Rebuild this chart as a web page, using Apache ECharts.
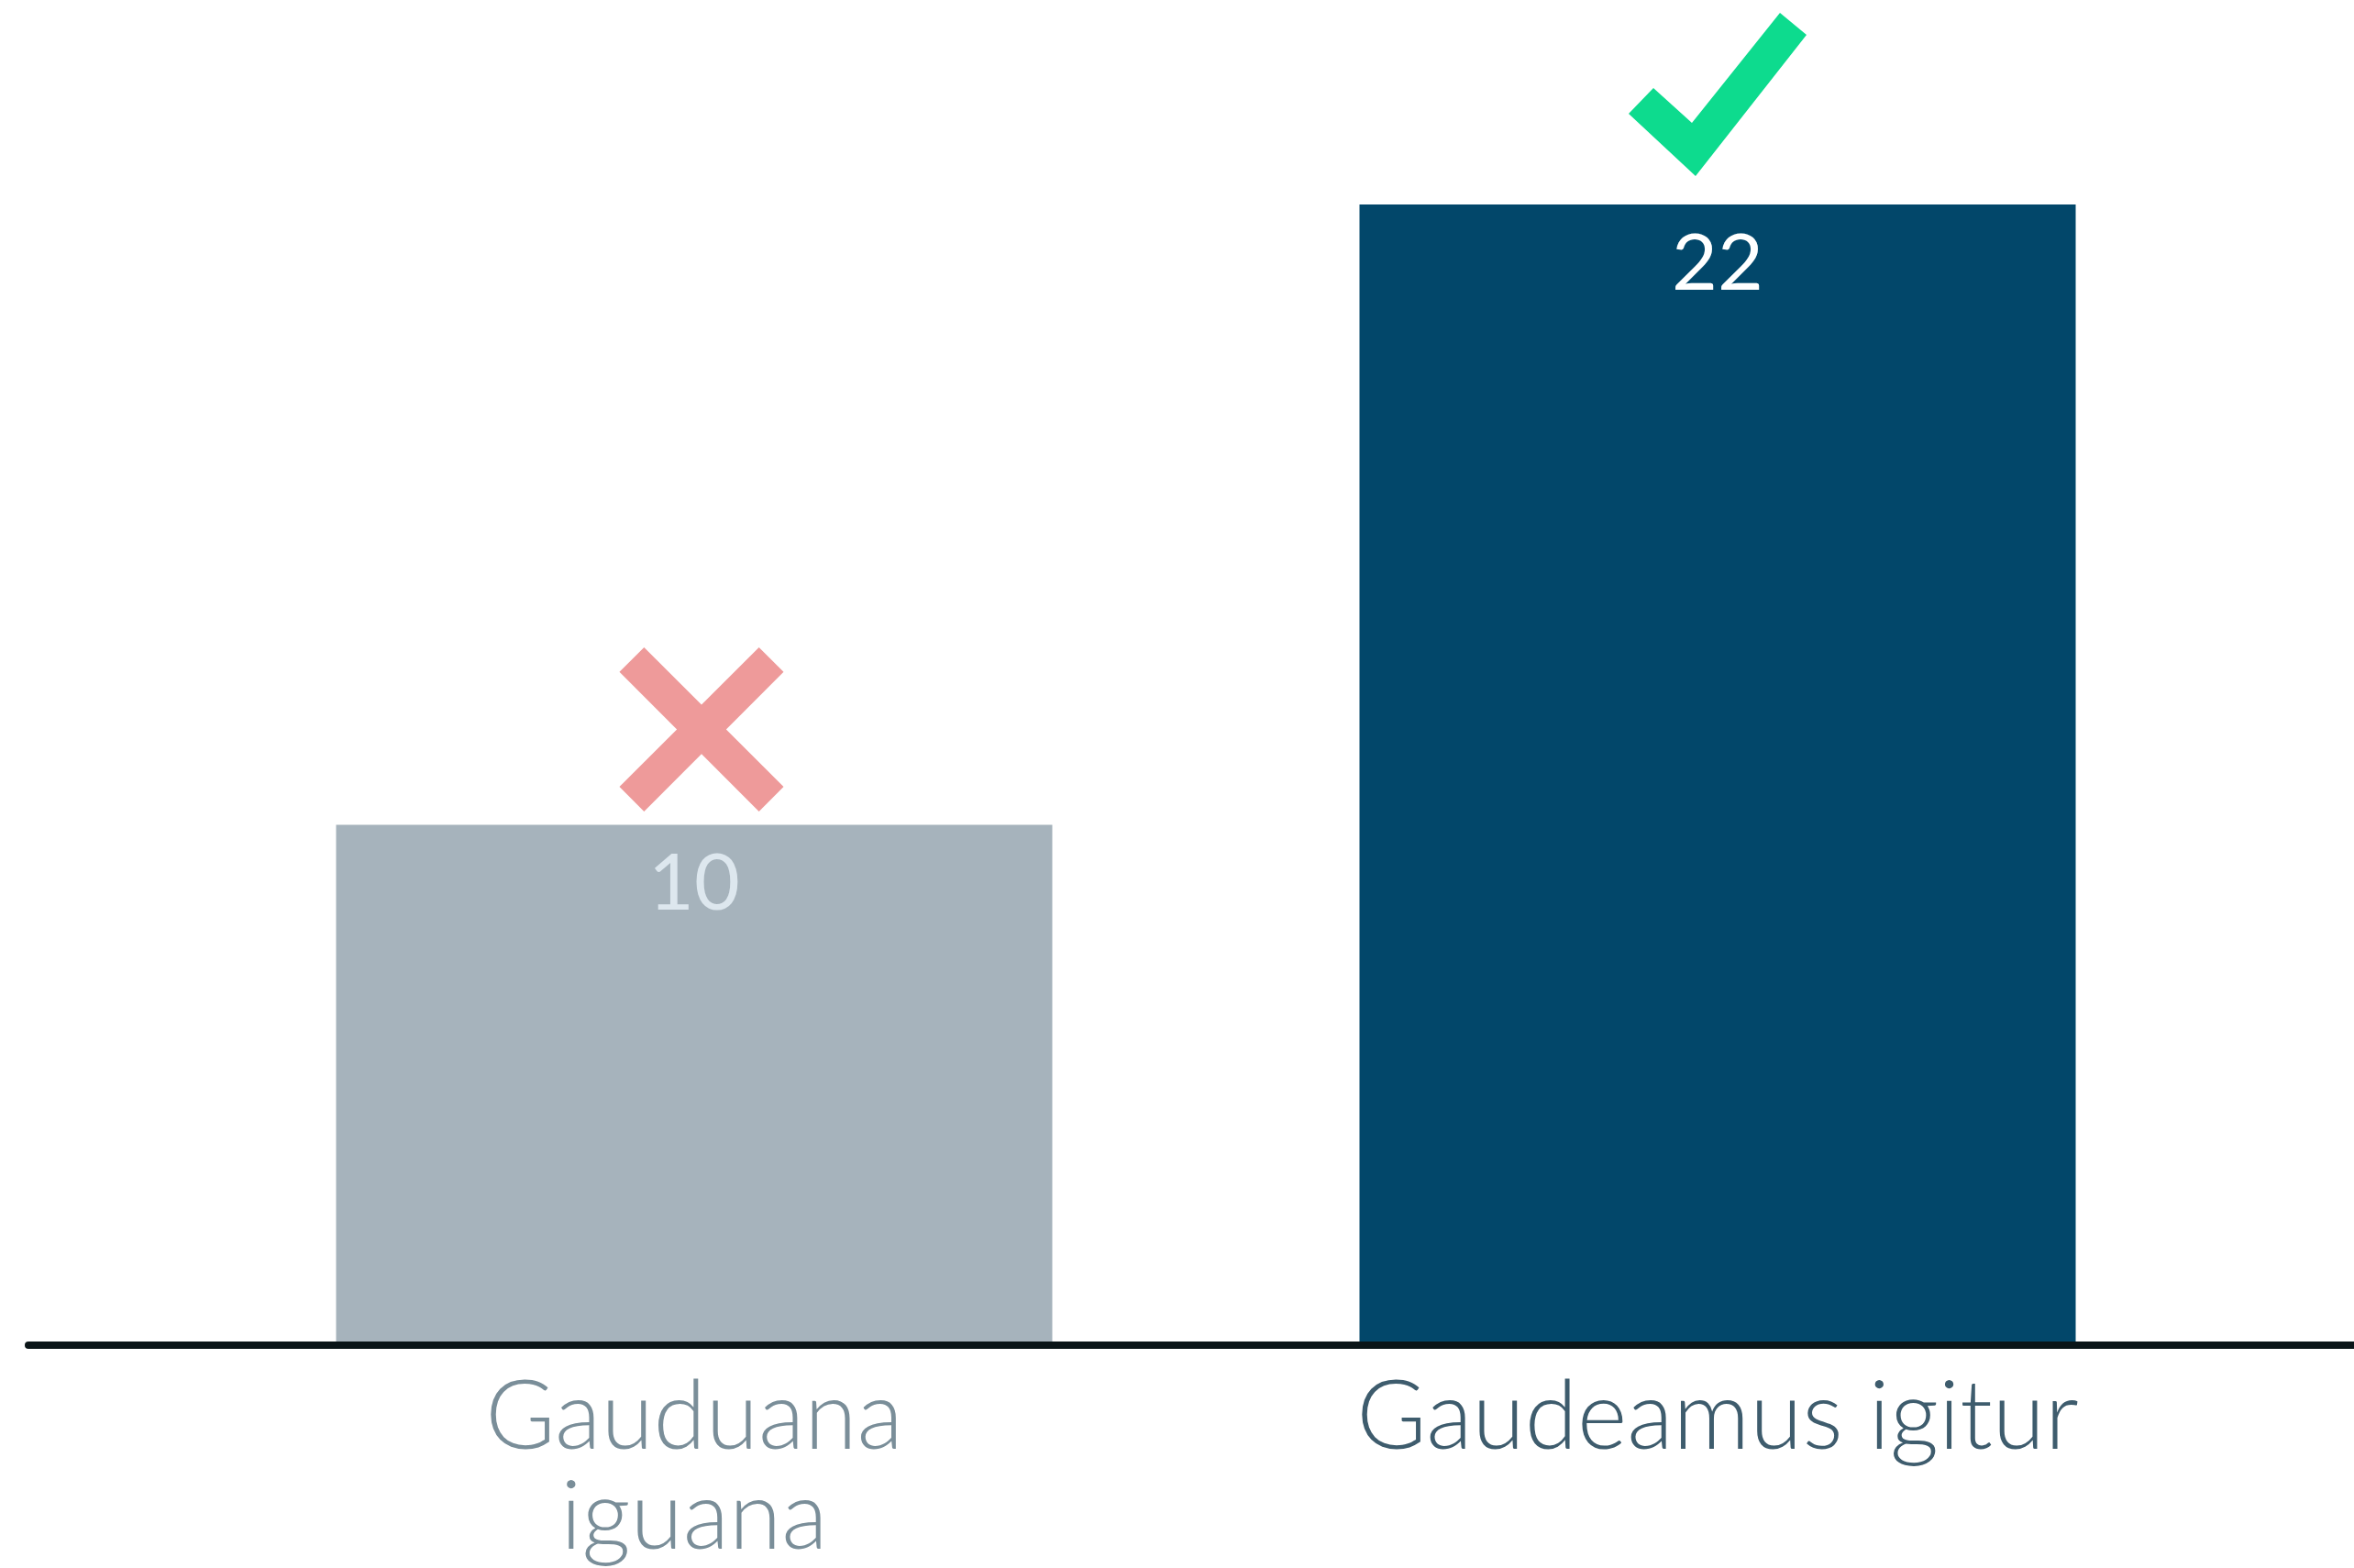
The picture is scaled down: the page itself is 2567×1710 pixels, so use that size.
<!DOCTYPE html>
<html>
<head>
<meta charset="utf-8">
<script src="https://cdn.jsdelivr.net/npm/echarts@6/dist/echarts.min.js"></script>
<style>
  html, body { margin: 0; padding: 0; background: #ffffff; }
  #chart { width: 2567px; height: 1710px; }
</style>
</head>
<body>
<div id="chart"></div>
<script>
// data
var categories = ['Gauduana\niguana', 'Gaudeamus igitur'];
var values = [10, 22];
var verdicts = ['wrong', 'right'];

// styles
var barColors = ['#A6B3BC', '#02476A'];
var valueLabelColors = ['#DDE7EE', '#FFFFFF'];
var catLabelColors = ['#7A8E99', '#3E5C6D'];

var crossPath = 'path://M0,15 L15,0 L50,35 L85,0 L100,15 L65,50 L100,85 L85,100 L50,65 L15,100 L0,85 L35,50 Z';
var checkPath = 'path://M0,110 L27,82 L69,120 L165,0 L194,24 L73,178 Z';

var chart = echarts.init(document.getElementById('chart'));

var barData = values.map(function (v, i) {
    return {
        value: v,
        itemStyle: { color: barColors[i] },
        label: { color: valueLabelColors[i] }
    };
});

// marker above each bar
var markerData = values.map(function (v, i) {
    var ok = verdicts[i] === 'right';
    return {
        value: [i, v],
        symbol: ok ? checkPath : crossPath,
        symbolSize: ok ? [194, 178] : [179, 179],
        symbolOffset: ok ? [0, -120] : [8, -104],
        itemStyle: { color: ok ? '#0DDB8E' : '#EE9A9A', opacity: 1 }
    };
});

var option = {
    backgroundColor: '#ffffff',
    animation: false,
    grid: [
        { left: 199, right: 136, top: 54, bottom: 247, outerBoundsMode: 'none' },
        // only used for the long baseline
        { left: 31, right: 0, top: 54, bottom: 243, outerBoundsMode: 'none' }
    ],
    xAxis: [
        {
            type: 'category',
            gridIndex: 0,
            data: categories.map(function (c, i) {
                return { value: c, textStyle: { color: catLabelColors[i] } };
            }),
            axisLine: { show: false },
            axisTick: { show: false },
            axisLabel: {
                fontFamily: 'Lato',
                fontWeight: 300,
                fontSize: 104,
                lineHeight: 109,
                margin: 29,
                interval: 0
            }
        },
        {
            type: 'value',
            gridIndex: 1,
            min: 0,
            max: 1,
            axisLine: { show: true, lineStyle: { color: '#0A1518', width: 8 } },
            axisTick: { show: false },
            axisLabel: { show: false },
            splitLine: { show: false }
        }
    ],
    yAxis: [
        { type: 'value', gridIndex: 0, min: 0, max: 25, show: false },
        { type: 'value', gridIndex: 1, min: 0, max: 1, show: false }
    ],
    series: [
        {
            type: 'bar',
            xAxisIndex: 0,
            yAxisIndex: 0,
            data: barData,
            barWidth: 781,
            label: {
                show: true,
                position: 'insideTop',
                distance: 22,
                fontFamily: 'Lato',
                fontWeight: 'normal',
                fontSize: 86
            }
        },
        {
            type: 'scatter',
            xAxisIndex: 0,
            yAxisIndex: 0,
            data: markerData,
            z: 5
        }
    ]
};

chart.setOption(option);
</script>
</body>
</html>
